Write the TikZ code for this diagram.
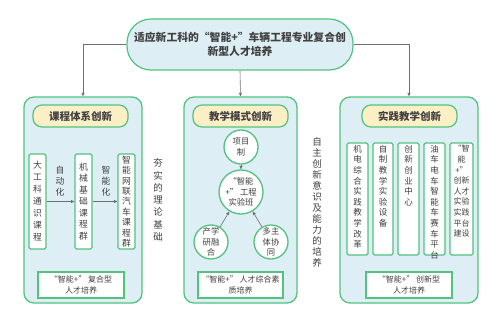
\documentclass[tikz,border=0pt]{standalone}
\usepackage{fontspec}
\setmainfont{Noto Sans CJK SC}
\usetikzlibrary{arrows.meta}
\definecolor{grn}{HTML}{52C27E}
\definecolor{pfill}{HTML}{DDEEF5}
\definecolor{yfill}{HTML}{FCEFC6}
\definecolor{txt}{HTML}{404040}
\definecolor{ln}{HTML}{707070}
\tikzset{
 topbox/.style={draw=grn, line width=1.2pt, fill=pfill, rounded corners=24pt, minimum width=226pt, minimum height=51pt, align=center, text=txt, font=\fontsize{10.8}{14}\selectfont\bfseries, inner sep=0},
 panel/.style={draw=grn, line width=1.3pt, fill=pfill, rounded corners=10pt, inner sep=0},
 titlebox/.style={draw=grn, line width=1.2pt, fill=yfill, rounded corners=9pt, minimum width=95pt, minimum height=22pt, font=\fontsize{10.5}{12}\selectfont\bfseries, text=txt, inner sep=0},
 vbox/.style={draw=grn, line width=1.2pt, fill=white, rounded corners=1.5pt, inner sep=0},
 vtext/.style={align=center, text=txt, inner sep=0},
 circ/.style={circle, draw=grn, line width=1.3pt, fill=white, inner sep=0, align=center, text=txt, font=\fontsize{8.3}{10.5}\selectfont},
 botbox/.style={draw=grn, line width=1.2pt, fill=white, inner sep=0, minimum height=26pt, align=center, text=txt, font=\fontsize{8}{10.5}\selectfont},
 arr/.style={draw=ln, line width=0.6pt, -{Triangle[length=3.5pt,width=3pt]}},
 side/.style={align=center, text=txt, inner sep=0},
}
\begin{document}
\begin{tikzpicture}[x=1pt,y=-1pt]
\path[use as bounding box] (0,0) rectangle (500,319);
% top
\node[topbox] (top) at (240,44.5) {适应新工科的“智能+”车辆工程专业复合创\\新型人才培养};
% panels
\node[panel, minimum width=118pt, minimum height=206pt] (lp) at (83,200) {};
\node[panel, minimum width=113pt, minimum height=206pt] (mp) at (240.5,200) {};
\node[panel, minimum width=138pt, minimum height=206pt] (rp) at (409,200) {};
\draw[arr] (top.west) -| (lp.north);
\draw[arr] (top.south) -- (mp.north);
\draw[arr] (top.east) -| (rp.north);
% titles
\node[titlebox] (lt) at (80.5,116) {课程体系创新};
\node[titlebox] (mt) at (240.5,116) {教学模式创新};
\node[titlebox] (rt) at (409.5,116) {实践教学创新};
% left panel
\node[vbox, vtext, minimum width=17pt, minimum height=95pt, font=\fontsize{8.8}{12}\selectfont] (b1) at (37.5,201.5) {大\\工\\科\\通\\识\\课\\程};
\node[vbox, vtext, minimum width=17pt, minimum height=95pt, font=\fontsize{8.8}{11.5}\selectfont] (b2) at (83.5,201.5) {机\\械\\基\\础\\课\\程\\群};
\node[vbox, vtext, minimum width=17pt, minimum height=95pt, font=\fontsize{8.8}{10.4}\selectfont] (b3) at (126.5,201.5) {智\\能\\网\\联\\汽\\车\\课\\程\\群};
\draw[arr] (b1) -- (b2);
\draw[arr] (b2) -- (b3);
\node[side, font=\fontsize{8.8}{11}\selectfont] (l1) at (60,181) {自\\动\\化};
\node[side, font=\fontsize{8.8}{11}\selectfont] (l2) at (106,181) {智\\能\\化};
\node[botbox, minimum width=86pt] (lb) at (81,285) {“智能+” 复合型\\人才培养};
% side texts
\node[side, font=\fontsize{9.5}{12.3}\selectfont] (s1) at (158,200) {夯\\实\\的\\理\\论\\基\\础};
\node[side, font=\fontsize{9.5}{11}\selectfont] (s2) at (317,202.5) {自\\主\\创\\新\\意\\识\\及\\能\\力\\的\\培\\养};
% middle panel
\node[circ, minimum size=34pt] (c1) at (241,147) {项目\\制};
\node[circ, minimum size=44pt] (c0) at (241,192) {“智能\\+” 工程\\实验班};
\node[circ, minimum size=34pt] (c2) at (211,242) {产学\\研融\\合};
\node[circ, minimum size=34pt] (c3) at (271,242) {多主\\体协\\同};
\draw[arr] (c1) -- (c0);
\draw[arr] (c2) -- (c0);
\draw[arr] (c3) -- (c0);
\node[botbox, minimum width=85pt] (mb) at (240.5,285) {“智能+” 人才综合素\\质培养};
% right panel
\node[vbox, minimum width=21pt, minimum height=112pt] (r1) at (357.5,199) {};
\node[vbox, minimum width=20pt, minimum height=112pt] (r2) at (383,199) {};
\node[vbox, minimum width=21pt, minimum height=112pt] (r3) at (408.5,199) {};
\node[vbox, minimum width=21pt, minimum height=112pt] (r4) at (434.5,199) {};
\node[vbox, minimum width=23pt, minimum height=112pt] (r5) at (461.5,199) {};
\tikzset{rtx/.style={vtext, anchor=north, font=\fontsize{8.5}{10.6}\selectfont}}
\node[rtx] (r1t) at ([yshift=-2.5pt]r1.north) {机\\电\\综\\合\\实\\践\\教\\学\\改\\革};
\node[rtx] (r2t) at ([yshift=-2.5pt]r2.north) {自\\制\\教\\学\\实\\验\\设\\备};
\node[rtx] (r3t) at ([yshift=-2.5pt]r3.north) {创\\新\\创\\业\\中\\心};
\node[rtx] (r4t) at ([yshift=-2.5pt]r4.north) {油\\车\\电\\车\\智\\能\\车\\赛\\车\\平\\台};
\node[rtx, font=\fontsize{8}{10.6}\selectfont] (r5t) at ([yshift=-2.5pt]r5.north) {“智\\能\\+”\\创新\\人才\\实验\\实践\\平台\\建设};
\node[botbox, minimum width=86pt] (rb) at (409,285) {“智能+” 创新型\\人才培养};
\end{tikzpicture}
\end{document}
